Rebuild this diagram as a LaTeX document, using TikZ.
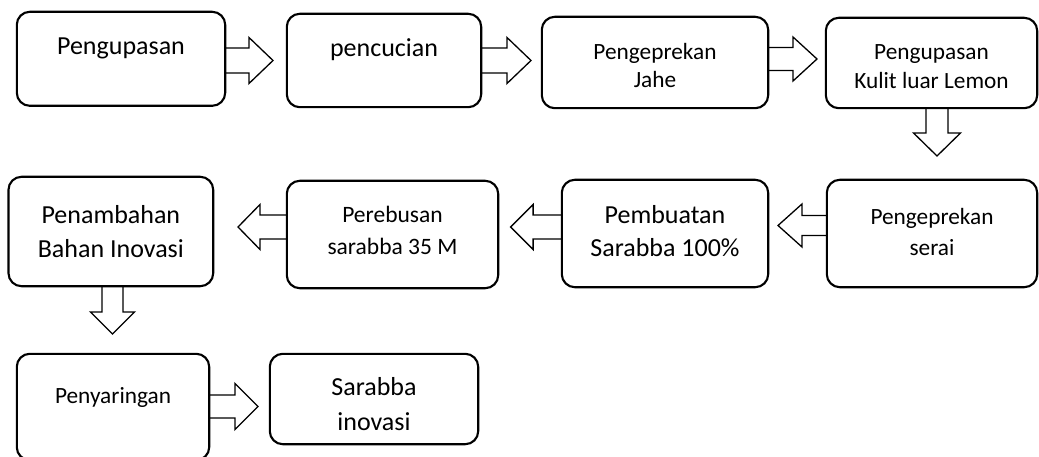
\documentclass[tikz,border=0pt]{standalone}
\usepackage{fontspec}
\setmainfont{Carlito}
\usetikzlibrary{calc}
\tikzset{
  box/.style={draw, line width=2.1pt, rounded corners=13pt, inner sep=0pt},
  blockarr/.style={draw, fill=white, line width=1.3pt, line join=miter},
  bigtxt/.style={anchor=base, align=center, inner sep=0pt},
  smalltxt/.style={anchor=base, align=center, inner sep=0pt},
}
% right, left and down block arrows: #1 start (node anchor), #2 tip coordinate,
% #3 shaft half width, #4 head half width, #5 head length
\newcommand\arrR[5]{\draw[blockarr] let \p1=(#1), \p2=(#2) in
  (\x1,\y2+#3) -- (\x2-#5,\y2+#3) -- (\x2-#5,\y2+#4) -- (\x2,\y2) --
  (\x2-#5,\y2-#4) -- (\x2-#5,\y2-#3) -- (\x1,\y2-#3) -- cycle;}
\newcommand\arrL[5]{\draw[blockarr] let \p1=(#1), \p2=(#2) in
  (\x1,\y2+#3) -- (\x2+#5,\y2+#3) -- (\x2+#5,\y2+#4) -- (\x2,\y2) --
  (\x2+#5,\y2-#4) -- (\x2+#5,\y2-#3) -- (\x1,\y2-#3) -- cycle;}
\newcommand\arrD[5]{\draw[blockarr] let \p1=(#1), \p2=(#2) in
  (\x2+#3,\y1) -- (\x2+#3,\y2+#5) -- (\x2+#4,\y2+#5) -- (\x2,\y2) --
  (\x2-#4,\y2+#5) -- (\x2-#3,\y2+#5) -- (\x2-#3,\y1) -- cycle;}
\begin{document}
\begin{tikzpicture}[x=1pt, y=-1pt]
\useasboundingbox (0,0) rectangle (1039,457);
% boxes (no text; drawn after arrows)
\path (121,58.8)   node[minimum width=208pt, minimum height=93.6pt, inner sep=0pt] (b1) {};
\path (384,60.5)   node[minimum width=194pt, minimum height=93pt, inner sep=0pt] (b2) {};
\path (655,62.5)   node[minimum width=226pt, minimum height=91pt, inner sep=0pt] (b3) {};
\path (931.5,63)   node[minimum width=211pt, minimum height=90pt, inner sep=0pt] (b4) {};
\path (110.85,231.5) node[minimum width=204.3pt, minimum height=109pt, inner sep=0pt] (b5) {};
\path (392.5,234.5) node[minimum width=211pt, minimum height=107pt, inner sep=0pt] (b6) {};
\path (665,233.5)  node[minimum width=206pt, minimum height=107pt, inner sep=0pt] (b7) {};
\path (932,233.5)  node[minimum width=210pt, minimum height=107pt, inner sep=0pt] (b8) {};
\path (113,407)    node[minimum width=192pt, minimum height=106pt, inner sep=0pt] (b9) {};
\path (374,399)    node[minimum width=208pt, minimum height=90pt, inner sep=0pt] (b10) {};
% arrow tips
\coordinate (t1) at (273,60.5);
\coordinate (t2) at (531,60.5);
\coordinate (t3) at (817,59);
\coordinate (t4) at (937,156);
\coordinate (t5) at (238,227);
\coordinate (t6) at (510.6,227);
\coordinate (t7) at (778,225.5);
\coordinate (t8) at (112.5,334);
\coordinate (t9) at (258,406.5);
% arrows
\arrR{b1.east}{t1}{12.5pt}{23pt}{24pt}
\arrR{b2.east}{t2}{12.5pt}{23pt}{24pt}
\arrR{b3.east}{t3}{11.5pt}{22pt}{24pt}
\arrD{b4.south}{t4}{11pt}{23.5pt}{23pt}
\arrL{b6.west}{t5}{12pt}{22.5pt}{22pt}
\arrL{b7.west}{t6}{12pt}{22.5pt}{22.5pt}
\arrL{b8.west}{t7}{10pt}{21.5pt}{24pt}
\arrD{b5.south}{t8}{10.5pt}{22pt}{22pt}
\arrR{b9.east}{t9}{11.5pt}{23pt}{23pt}
% box outlines
\foreach \b in {b1,b2,b3,b4,b5,b6,b7,b8,b9,b10}
  \draw[box] (\b.south west) rectangle (\b.north east);
% texts (anchor=base of a two-line node is the baseline of its last line)
\node[bigtxt, font=\fontsize{26}{31}\selectfont] (x1) at (121,54.3) {Pengupasan};
\node[bigtxt, font=\fontsize{26}{31}\selectfont] (x2) at (384,56.5) {pencucian};
\node[smalltxt, font=\fontsize{23.3}{27.7}\selectfont] (x3) at (655,87.7) {Pengeprekan\\Jahe};
\node[smalltxt, font=\fontsize{23.3}{29.5}\selectfont] (x4) at (931.5,89) {Pengupasan\\Kulit luar Lemon};
\node[bigtxt, font=\fontsize{26}{34}\selectfont] (x5) at (110.85,257.5) {Penambahan\\Bahan Inovasi};
\node[smalltxt, font=\fontsize{23.5}{32}\selectfont] (x6) at (392.5,254.5) {Perebusan\\sarabba 35 M};
\node[bigtxt, font=\fontsize{26}{33.4}\selectfont] (x7) at (665,256.7) {Pembuatan\\Sarabba 100\%};
\node[smalltxt, font=\fontsize{23.3}{32}\selectfont] (x8) at (932,256) {Pengeprekan\\serai};
\node[smalltxt, font=\fontsize{23.3}{28}\selectfont] (x9) at (113,403.3) {Penyaringan};
\node[bigtxt, font=\fontsize{26}{35}\selectfont] (x10) at (374,430) {Sarabba\\inovasi};
\end{tikzpicture}
\end{document}
